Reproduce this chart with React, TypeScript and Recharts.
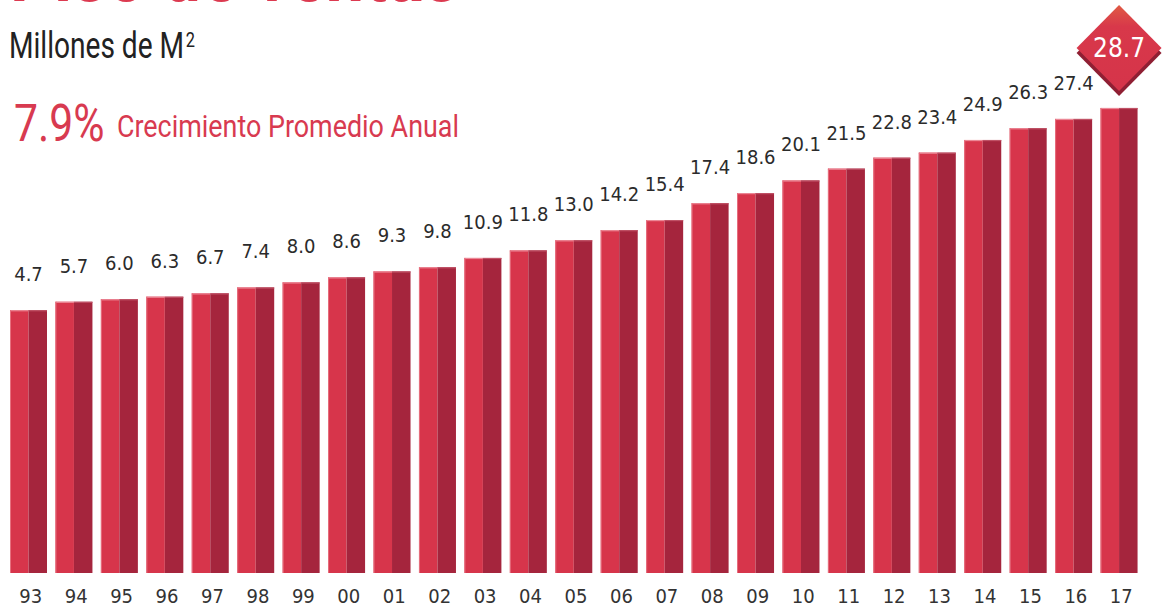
import { Bar, BarChart, LabelList, XAxis, YAxis } from "recharts";

const years = ["93", "94", "95", "96", "97", "98", "99", "00", "01", "02", "03", "04", "05", "06", "07", "08", "09", "10", "11", "12", "13", "14", "15", "16", "17"];
const values = [4.7, 5.7, 6.0, 6.3, 6.7, 7.4, 8.0, 8.6, 9.3, 9.8, 10.9, 11.8, 13.0, 14.2, 15.4, 17.4, 18.6, 20.1, 21.5, 22.8, 23.4, 24.9, 26.3, 27.4, 28.7];

const title = "Piso de ventas";
const unitLabel = "Millones de M";
const growthValue = "7.9%";
const growthLabel = "Crecimiento Promedio Anual";

const LIGHT = "#d7354b";
const DARK = "#a5253d";
const TEXT = "#2b2b2b";
const NUM_FONT = "'DejaVu Sans Condensed', 'DejaVu Sans', sans-serif";
const HEAD_FONT = "Roboto, sans-serif";

const W = 1172;
const H = 608;
const margin = { top: 97, right: 30, bottom: 0, left: 6 };
const axisHeight = 35;
const plotBottom = H - margin.bottom - axisHeight;

const data = years.map((year, i) => ({ year, value: values[i] }));

// two-tone bar, always running to the bottom of the plot
function TwoToneBar(props: any) {
  const { x, y, width, background } = props;
  const bottom = background ? background.y + background.height : plotBottom;
  const h = bottom - y;
  const half = width / 2;
  return (
    <g>
      <rect x={x} y={y} width={half} height={h} fill={LIGHT} />
      <rect x={x + half} y={y} width={width - half} height={h} fill={DARK} />
      <rect x={x} y={y} width={half} height={1.2} fill="#ec8896" />
      <rect x={x} y={y} width={1} height={h} fill="#e7707f" />
      <rect x={x + half} y={y} width={width - half} height={1.2} fill="#c05266" />
    </g>
  );
}

function ValueLabel(props: any) {
  const { x, y, width, value, index } = props;
  const cx = x + width / 2;
  const text = Number(value).toFixed(1);
  if (index === values.length - 1) {
    const cy = y - 60;
    const hw = 42.5;
    const hh = 43;
    const pts = (dy: number) =>
      `${cx},${cy - hh + dy} ${cx + hw},${cy + dy} ${cx},${cy + hh + dy} ${cx - hw},${cy + dy}`;
    return (
      <g>
        <defs>
          <linearGradient id="diamondGrad" x1="0" y1="0" x2="0" y2="1">
            <stop offset="0%" stopColor="#e05a44" />
            <stop offset="25%" stopColor="#d8384a" />
            <stop offset="100%" stopColor="#d5344a" />
          </linearGradient>
        </defs>
        <polygon points={pts(5)} fill="#8f1f33" />
        <polygon points={pts(0)} fill="url(#diamondGrad)" />
        <text x={cx} y={cy + 9} textAnchor="middle" fontSize={26} fill="#ffffff" fontFamily={NUM_FONT}>
          {text}
        </text>
      </g>
    );
  }
  return (
    <text x={cx} y={y - 29} textAnchor="middle" fontSize={20} fill={TEXT} fontFamily={NUM_FONT}>
      {text}
    </text>
  );
}

function YearTick(props: any) {
  const { x, y, payload } = props;
  return (
    <text x={x + 2} y={y + 30} textAnchor="middle" fontSize={20} fill="#333333" fontFamily={NUM_FONT}>
      {payload.value}
    </text>
  );
}

const narrow = (sx: number): React.CSSProperties => ({
  position: "absolute",
  fontFamily: HEAD_FONT,
  whiteSpace: "nowrap",
  lineHeight: 1,
  transform: `scaleX(${sx})`,
  transformOrigin: "left top",
});

export default function App() {
  return (
    <div style={{ position: "absolute", left: 0, top: 0, width: W, height: H, overflow: "hidden", background: "#ffffff" }}>
      <div style={{ ...narrow(0.875), left: 10, top: -64, fontWeight: 700, fontSize: 78, color: "#dc3a50" }}>{title}</div>
      <div style={{ ...narrow(0.78), left: 9, top: 28, fontSize: 36, color: "#222222" }}>
        {unitLabel}
        <sup style={{ fontSize: 21, verticalAlign: "top", position: "relative", top: 2, marginLeft: 2 }}>2</sup>
      </div>
      <div style={{ ...narrow(0.82), left: 14, top: 98, fontSize: 52, color: "#d83a50" }}>{growthValue}</div>
      <div style={{ ...narrow(0.84), left: 117, top: 110, fontSize: 32, color: "#d83a50" }}>{growthLabel}</div>
      <div style={{ position: "absolute", left: 0, top: 0 }}>
        <BarChart width={W} height={H} data={data} margin={margin}>
          <XAxis
            dataKey="year"
            height={axisHeight}
            axisLine={false}
            tickLine={false}
            tickSize={0}
            tickMargin={0}
            interval={0}
            tick={<YearTick />}
          />
          <YAxis hide domain={[-26.5, 30]} />
          <Bar dataKey="value" barSize={37} shape={<TwoToneBar />} isAnimationActive={false}>
            <LabelList dataKey="value" content={<ValueLabel />} />
          </Bar>
        </BarChart>
      </div>
    </div>
  );
}
